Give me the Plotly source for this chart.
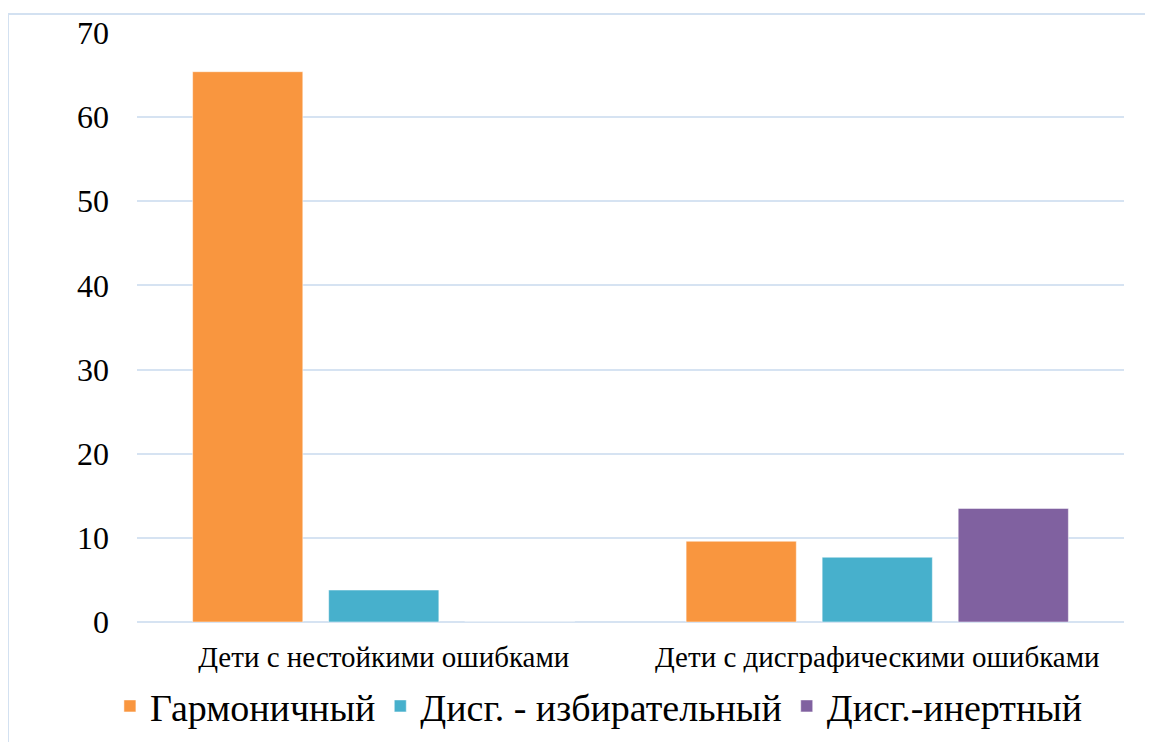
import plotly.graph_objects as go

categories = ["Дети с нестойкими ошибками", "Дети с дисграфическими ошибками"]
series_names = ["Гармоничный", "Дисг. - избирательный", "Дисг.-инертный"]
harmonic = [65.4, 9.6]
selective = [3.8, 7.7]
inert = [0, 13.5]
colors = ["#f9963f", "#47b0cc", "#8061a0"]
y_ticks = [0, 10, 20, 30, 40, 50, 60, 70]

FONT = "Times New Roman"

fig = go.Figure()
for name, vals, col in zip(series_names, [harmonic, selective, inert], colors):
    fig.add_trace(go.Bar(
        x=categories, y=vals, name=name,
        marker=dict(color=col, line=dict(color="rgba(255,255,255,0.5)", width=1)),
    ))

fig.update_layout(
    width=1145, height=734,
    margin=dict(l=129, r=29, t=25, b=120, autoexpand=False),
    paper_bgcolor="white", plot_bgcolor="white",
    barmode="group", bargap=0.173, bargroupgap=0.19,
    font=dict(family=FONT, color="black"),
    showlegend=True,
    legend=dict(orientation="h", x=0.468, xanchor="center", y=-0.143, yanchor="middle",
                font=dict(size=38, family=FONT), itemwidth=30, traceorder="normal",
                bgcolor="rgba(0,0,0,0)"),
    xaxis=dict(showgrid=False, showline=False, ticks="", tickfont=dict(size=29, family=FONT),
               ticklabelstandoff=15),
    yaxis=dict(range=[0, 70], tickvals=y_ticks, showgrid=True, gridcolor="#d6e3f2", gridwidth=2,
               zeroline=True, zerolinecolor="#d6e3f2", zerolinewidth=2, showline=False,
               tickfont=dict(size=32, family=FONT), ticklabelstandoff=27),
    shapes=[dict(type="rect", xref="paper", yref="paper", x0=-0.1307, x1=1.05, y0=-0.25, y1=1.0323,
                 line=dict(color="#d3e1f1", width=2), fillcolor="rgba(0,0,0,0)", layer="below")],
)

fig.write_html("out.html")
